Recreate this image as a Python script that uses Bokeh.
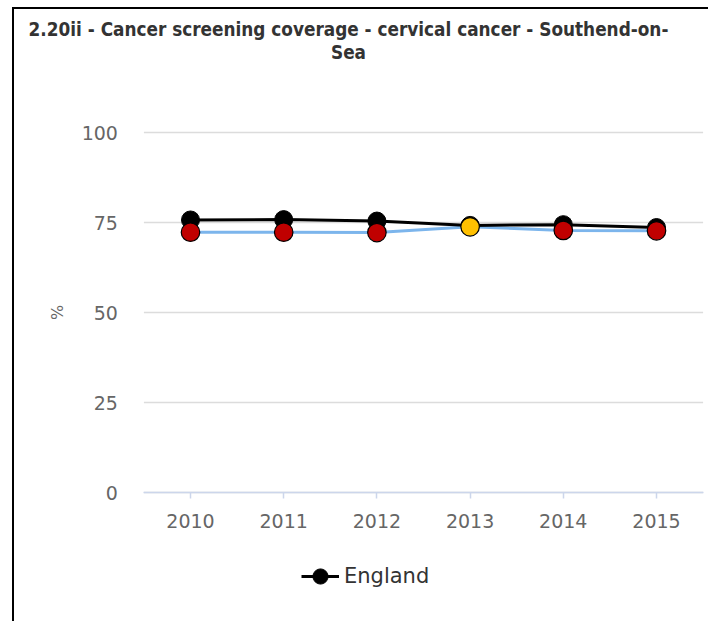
from bokeh.plotting import figure
from bokeh.models import Range1d, Label, Legend, LegendItem, ColumnDataSource, FixedTicker
from bokeh.embed import file_html
from bokeh.resources import INLINE

years = [2010, 2011, 2012, 2013, 2014, 2015]
england = [75.7, 75.8, 75.4, 74.2, 74.4, 73.6]
southend = [72.3, 72.3, 72.2, 73.8, 72.8, 72.7]
southend_compare = ["worse", "worse", "worse", "similar", "worse", "worse"]
y_ticks = [0, 25, 50, 75, 100]
title_line1 = "2.20ii - Cancer screening coverage - cervical cancer - Southend-on-"
title_line2 = "Sea"

compare_colors = {"worse": "#C00000", "similar": "#FFC000", "better": "#92D050"}

# pixel layout of the figure: frame covers the whole canvas
W, H = 696, 614
px_per_year = 93.2
first_center = 176          # px from left edge
y0_px, y100_px = 483, 123   # px from top edge
ppu = (y0_px - y100_px) / 100.0
x_lo = years[0] - first_center / px_per_year
x_hi = years[0] + (W - first_center) / px_per_year
y_hi = 100 + y100_px / ppu
y_lo = -(H - y0_px) / ppu
cat_lo, cat_hi = years[0] - 0.5, years[-1] + 0.5

p = figure(width=W, height=H, x_range=Range1d(x_lo, x_hi), y_range=Range1d(y_lo, y_hi),
           output_backend="svg", toolbar_location=None,
           min_border_left=0, min_border_right=0, min_border_top=0, min_border_bottom=0)
p.outline_line_color = None
p.background_fill_color = "white"
p.border_fill_color = "white"
p.styles = {"border-left": "2px solid black", "border-top": "2px solid black",
            "border-right": "0px none", "box-shadow": "none",
            "margin-left": "12px", "margin-top": "7px"}
p.xgrid.grid_line_color = None
p.ygrid.grid_line_color = None

# horizontal gridlines at the y ticks, spanning the category band
p.segment(x0=[cat_lo] * len(y_ticks), x1=[cat_hi] * len(y_ticks), y0=y_ticks, y1=y_ticks,
          line_color="#DCDCDC", line_width=1.5)

src_e = ColumnDataSource(dict(x=years, y=england))
src_s = ColumnDataSource(dict(x=years, y=southend,
                              c=[compare_colors[k] for k in southend_compare]))

p.line("x", "y", source=src_s, line_color="#7CB5EC", line_width=3)
e_line = p.line("x", "y", source=src_e, line_color="black", line_width=3)
e_dots = p.scatter("x", "y", source=src_e, size=18, fill_color="black", line_color="black")
p.scatter("x", "y", source=src_s, size=18.5, fill_color="c", line_color="black", line_width=1.2)

# y axis
p.yaxis.fixed_location = cat_lo
p.yaxis.ticker = FixedTicker(ticks=y_ticks)
p.yaxis.bounds = (0, 100)
p.yaxis.axis_line_color = None
p.yaxis.major_tick_line_color = None
p.yaxis.major_tick_out = 0
p.yaxis.major_tick_in = 0
p.yaxis.minor_tick_line_color = None
p.yaxis.major_label_standoff = 26
p.yaxis.major_label_text_font = "DejaVu Sans"
p.yaxis.major_label_text_font_size = "19px"
p.yaxis.major_label_text_color = "#666666"
p.yaxis.axis_label = "%"
p.yaxis.axis_label_text_font = "DejaVu Sans"
p.yaxis.axis_label_text_font_style = "normal"
p.yaxis.axis_label_text_font_size = "16px"
p.yaxis.axis_label_text_color = "#666666"
p.yaxis.axis_label_standoff = 11

# x axis
p.xaxis.fixed_location = 0
p.xaxis.ticker = FixedTicker(ticks=years)
p.xaxis.bounds = (cat_lo, cat_hi)
p.xaxis.minor_tick_line_color = None
p.xaxis.axis_line_color = "#CCD6EB"
p.xaxis.axis_line_width = 1.5
p.xaxis.major_tick_line_color = "#CCD6EB"
p.xaxis.major_tick_line_width = 1.5
p.xaxis.major_tick_out = 6
p.xaxis.major_tick_in = 0
p.xaxis.major_label_standoff = 15
p.xaxis.major_label_text_font = "DejaVu Sans"
p.xaxis.major_label_text_font_size = "19px"
p.xaxis.major_label_text_color = "#666666"

# title
for txt, yy in [(title_line1, H - 20), (title_line2, H - 43)]:
    p.add_layout(Label(x=334, y=yy, x_units="screen", y_units="screen", text=txt,
                       text_align="center", text_baseline="middle",
                       text_font="DejaVu Sans Condensed", text_font_style="bold",
                       text_font_size="18.8px", text_color="#333333"))

legend = Legend(items=[LegendItem(label="England", renderers=[e_line, e_dots])],
                location=(287, H - 586), orientation="horizontal",
                label_text_font="DejaVu Sans", label_text_font_size="21px",
                label_text_color="#333333", border_line_color=None,
                background_fill_alpha=0, padding=0, margin=0,
                glyph_width=38, glyph_height=38, label_standoff=5)
p.add_layout(legend, "center")

open("out.html", "w").write(file_html(p, INLINE))
